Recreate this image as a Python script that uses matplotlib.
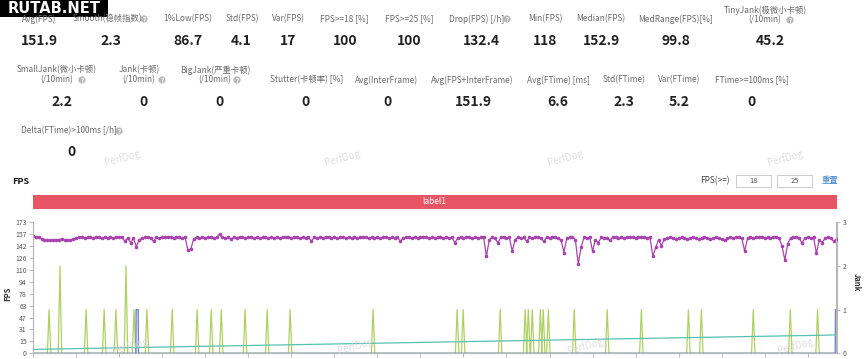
import numpy as np
import matplotlib
matplotlib.use('Agg')
import matplotlib.pyplot as plt
from matplotlib.patches import Rectangle, Circle

plt.rcParams['font.family'] = ['Noto Sans CJK SC', 'DejaVu Sans']

# ---- summary numbers ----
row1_labels = ['Avg(FPS)', 'Smooth(稳帧指数)', '1%Low(FPS)', 'Std(FPS)', 'Var(FPS)',
               'FPS>=18 [%]', 'FPS>=25 [%]', 'Drop(FPS) [/h]', 'Min(FPS)', 'Median(FPS)',
               'MedRange(FPS)[%]', 'TinyJank(极微小卡顿)\n(/10min)']
row1_values = ['151.9', '2.3', '86.7', '4.1', '17', '100', '100', '132.4', '118',
               '152.9', '99.8', '45.2']
row2_labels = ['SmallJank(微小卡顿)\n(/10min)', 'Jank(卡顿)\n(/10min)', 'BigJank(严重卡顿)\n(/10min)',
               'Stutter(卡顿率) [%]', 'Avg(InterFrame)', 'Avg(FPS+InterFrame)', 'Avg(FTime) [ms]',
               'Std(FTime)', 'Var(FTime)', 'FTime>=100ms [%]']
row2_values = ['2.2', '0', '0', '0', '0', '151.9', '6.6', '2.3', '5.2', '0']
row3_label = 'Delta(FTime)>100ms [/h]'
row3_value = '0'

# ---- FPS per second ----
fps = [
    155, 154, 153, 151, 150, 150, 149, 150, 150, 150, 151, 150, 149, 150, 151, 152, 153, 153, 152, 153,
    153, 152, 154, 153, 152, 153, 152, 153, 152, 154, 153, 153, 148, 152, 146, 152, 141, 150, 152, 153,
    153, 152, 148, 153, 152, 153, 153, 154, 153, 152, 153, 153, 152, 153, 136, 138, 151, 153, 152, 153,
    152, 153, 154, 152, 153, 157, 153, 152, 153, 151, 153, 152, 154, 153, 152, 153, 154, 152, 153, 152,
    153, 154, 152, 153, 152, 153, 152, 154, 153, 153, 152, 153, 154, 152, 153, 152, 153, 148, 153, 152,
    153, 152, 154, 153, 152, 153, 152, 153, 154, 152, 153, 152, 153, 152, 153, 154, 153, 152, 153, 152,
    153, 152, 153, 154, 152, 153, 152, 153, 148, 152, 153, 154, 152, 153, 152, 153, 154, 153, 152, 153,
    152, 153, 154, 152, 153, 152, 153, 146, 152, 153, 152, 154, 153, 152, 153, 152, 153, 154, 128, 150,
    153, 152, 146, 153, 154, 152, 153, 135, 150, 153, 152, 153, 148, 153, 152, 154, 153, 152, 148, 153,
    152, 153, 154, 152, 150, 133, 152, 153, 154, 150, 118, 140, 153, 152, 153, 135, 150, 146, 153, 152,
    152, 149, 153, 154, 152, 153, 152, 153, 154, 153, 152, 153, 154, 153, 152, 153, 128, 140, 150, 142,
    151, 152, 153, 152, 151, 152, 153, 152, 151, 152, 153, 152, 151, 152, 153, 152, 151, 152, 153, 152,
    151, 149, 152, 153, 152, 153, 154, 152, 135, 152, 153, 152, 153, 154, 153, 152, 153, 152, 153, 154,
    152, 142, 123, 145, 152, 153, 154, 152, 146, 152, 153, 152, 153, 132, 150, 146, 152, 153, 152, 148,
    151,
]
t = np.arange(len(fps))

# jank events (right axis)
small_jank_t = [5.6, 9.4, 18.5, 24.8, 28.9, 32.4, 35.2, 39.7, 48.5, 57.2, 62.1, 65.6, 73.9, 81.6,
                89.6, 118.5, 147.8, 149.9, 162.8, 171.5, 172.6, 174.0, 176.8, 177.8, 179.6,
                188.6, 200.1, 212.0, 228.4, 232.9, 251.0, 263.9, 273.4]
small_jank_v = [1, 2, 1, 1, 1, 2, 1, 1, 1, 1, 1, 1, 1, 1,
                1, 1, 1, 1, 1, 1, 1, 1, 1, 1, 1,
                1, 1, 1, 1, 1, 1, 1, 1]
big_jank_t = [36.3, 280.0]
big_jank_v = [1, 1]
trend_t = [0, 280]
trend_v = [0.09, 0.42]

fps_ticks = [0, 15, 31, 47, 63, 78, 94, 110, 126, 142, 157, 173]


def spikes(times, vals, half, flat=0.0):
    xs, ys = [0.0], [0.0]
    for tt, v in zip(times, vals):
        xs += [tt - half - flat, tt - flat, tt + flat, tt + half + flat]
        ys += [0, v, v, 0]
    xs.append(280.0)
    ys.append(0.0)
    return xs, ys


fig = plt.figure(figsize=(8.66, 3.59), dpi=100)

# ---- chart ----
ax = fig.add_axes([33 / 866, (359 - 353.3) / 359, (836.5 - 33) / 866, (353.3 - 222.3) / 359])
ax2 = ax.twinx()

ax.plot(t, fps, color='#a844ad', lw=0.9, marker='o', markersize=1.6, zorder=3)
ax.set_xlim(0, 280)
ax.set_ylim(0, 173)
ax.set_yticks(np.linspace(0, 173, 12))
ax.set_yticklabels([str(v) for v in fps_ticks])
ax.set_xticks(np.arange(0, 281, 15))
ax.set_xticklabels([])

gx, gy = spikes(small_jank_t, small_jank_v, 0.6)
ax2.plot(gx, gy, color='#afd163', lw=0.9, zorder=2)
bx, by = spikes(big_jank_t, big_jank_v, 0.1, 0.35)
ax2.plot(bx, by, color='#7183c9', lw=1.0, zorder=2)
ax2.plot(trend_t, trend_v, color='#56c3b0', lw=0.9, zorder=2)
ax2.set_ylim(0, 3)
ax2.set_yticks([0, 1, 2, 3])

for a in (ax, ax2):
    for s in a.spines.values():
        s.set_color('#b8b8b8')
        s.set_linewidth(0.8)
    a.spines['top'].set_visible(False)
    a.tick_params(length=3, width=0.6, color='#b0b0b0', labelsize=5, labelcolor='#555555', pad=1.5)

# ---- overlay for page elements ----
ov = fig.add_axes([0, 0, 1, 1])
ov.set_xlim(0, 866)
ov.set_ylim(359, 0)
ov.axis('off')
ov.patch.set_alpha(0)
ov.set_zorder(5)

lab_kw = dict(fontsize=6, color='#6a6a6a', ha='center', va='center')
val_kw = dict(fontsize=10, color='#222222', ha='center', va='center', fontweight='bold')


def label(x, y, text):
    # two-line labels are drawn line by line, 10 px apart
    lines = text.split('\n')
    if len(lines) == 1:
        ov.text(x, y, text, **lab_kw)
    else:
        ov.text(x, y - 5, lines[0], **lab_kw)
        ov.text(x, y + 5, lines[1], **lab_kw)


r1_lx = [39, 107, 188, 242, 288, 344, 409, 477, 545, 601, 676, 765]
r1_vx = [39, 111, 188, 241, 288, 345, 409, 481, 545, 601, 676, 770]
for lab, val, lx, vx in zip(row1_labels, row1_values, r1_lx, r1_vx):
    label(lx, 15 if '\n' in lab else 19, lab)
    ov.text(vx, 41, val, **val_kw)

r2_lx = [57, 139, 215, 307, 387, 472, 558, 624, 679, 752]
r2_vx = [62, 143, 219, 306, 387, 473, 558, 624, 679, 752]
for lab, val, lx, vx in zip(row2_labels, row2_values, r2_lx, r2_vx):
    label(lx, 75 if '\n' in lab else 80, lab)
    ov.text(vx, 102, val, **val_kw)

ov.text(21, 131, row3_label, fontsize=6, color='#6a6a6a', ha='left', va='center')
ov.text(72, 152, row3_value, **val_kw)


def help_icon(x, y):
    ov.add_patch(Circle((x, y), 3.6, fc='#b8b8b8', ec='none'))
    ov.text(x, y + 0.3, '?', fontsize=4.5, color='white', ha='center', va='center', fontweight='bold')


for hx, hy in [(144, 19), (507, 19), (790, 20), (82, 80), (162, 80), (237, 80), (119, 131)]:
    help_icon(hx, hy)

# site stamp
ov.add_patch(Rectangle((0, 0), 108, 17, fc='black', ec='none'))
ov.text(54, 8.5, 'RUTAB.NET', color='white', fontsize=10.5, fontweight='bold',
        ha='center', va='center', family='DejaVu Sans')

# section header
ov.text(12, 182, 'FPS', fontsize=6.5, fontweight='bold', color='#111111', ha='left', va='center')
ov.text(700, 181, 'FPS(>=)', fontsize=6, color='#444444', ha='left', va='center')
for bx0, txt in [(736, '18'), (777, '25')]:
    ov.add_patch(Rectangle((bx0, 175), 35, 12, fc='white', ec='#cccccc', lw=0.7))
    ov.text(bx0 + 17.5, 181, txt, fontsize=5.5, color='#555555', ha='center', va='center')
ov.text(830, 181, '重置', fontsize=6, color='#3a7fd5', ha='center', va='center')

ov.add_patch(Rectangle((33, 194.5), 804, 14.5, fc='#e85666', ec='none'))
ov.text(434, 201.7, 'label1', fontsize=6, color='white', ha='center', va='center')

ov.text(8, 294, 'FPS', fontsize=5.5, fontweight='bold', color='#333333', rotation=90,
        ha='center', va='center')
ov.text(856, 282, 'Jank', fontsize=5.5, fontweight='bold', color='#333333', rotation=270,
        ha='center', va='center')

# watermarks
for wx, wy in [(122, 158), (342, 158), (565, 158), (785, 158),
               (130, 346), (355, 346), (585, 346), (795, 346)]:
    ov.text(wx, wy, 'PerfDog', fontsize=7, color='#d8d8d8', alpha=0.8, rotation=15,
            ha='center', va='center')

fig.savefig('out.png', dpi=100)
plt.close(fig)
